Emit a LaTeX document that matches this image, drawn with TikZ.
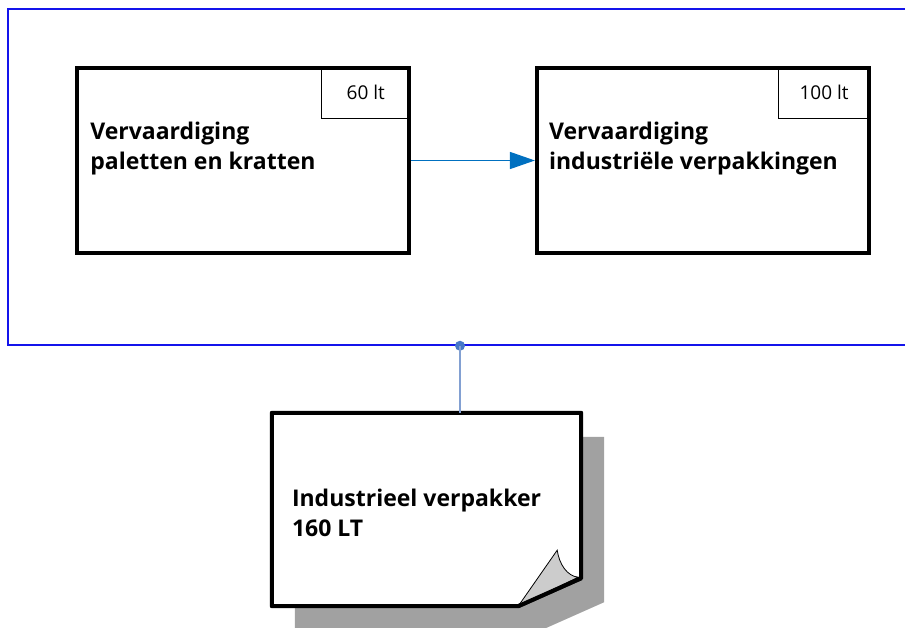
\documentclass[tikz,border=0pt]{standalone}
\usepackage{fontspec}
\setmainfont{Open Sans}
\usetikzlibrary{positioning,arrows.meta}
\definecolor{framblue}{RGB}{20,20,235}
\definecolor{flowblue}{RGB}{0,112,192}
\definecolor{linkblue}{RGB}{130,160,210}
\definecolor{dotblue}{RGB}{70,120,200}
\tikzset{procbox/.style={draw=black, line width=3.8pt, minimum width=332pt, minimum height=185pt, inner sep=0pt},
         lblbox/.style={draw=black, line width=1.2pt, minimum width=89pt, minimum height=52pt, inner sep=0pt, font=\fontsize{19}{22}\selectfont},
         boxtext/.style={align=left, inner sep=0pt, font=\fontsize{23}{30}\selectfont\bfseries}}

\begin{document}
\begin{tikzpicture}[x=1pt,y=-1pt]
   \useasboundingbox (0,0) rectangle (905,628);
   % group frame
   \node[draw=framblue, line width=1.5pt, minimum width=904pt, minimum height=336pt, inner sep=0pt] (grp) at (460,177) {};
   % process boxes
   \node[procbox] (box1) at (243,160.5) {};
   \node[procbox, right=124pt of box1] (box2) {};
   \node[lblbox, anchor=north east] (lbl1) at (box1.north east) {60 lt};
   \node[lblbox, anchor=north east, minimum width=92pt] (lbl2) at (box2.north east) {100 lt};
   \node[boxtext, anchor=west] (txt1) at ([xshift=15pt, yshift=12pt]box1.west) {Vervaardiging\\paletten en kratten};
   \node[boxtext, anchor=west] (txt2) at ([xshift=14pt, yshift=12pt]box2.west) {Vervaardiging\\industriële verpakkingen};
   \draw[flowblue, line width=1.5pt, -{Triangle[length=25pt, width=17pt]}] (box1.east) -- (box2.west);
   % note with shadow
   \node[minimum width=309pt, minimum height=193pt, inner sep=0pt] (note) at (426.5,509.5) {};
   \fill[black!37] ([shift={(23,24)}]note.north west) -- ([shift={(23,24)}]note.north east)
        -- ([shift={(23,-4)}]note.south east) -- ([shift={(-40,24)}]note.south east) -- ([shift={(23,24)}]note.south west) -- cycle;
   \draw[line width=4pt, line join=round, fill=white] (note.north west) -- (note.north east)
        -- ([yshift=28]note.south east) -- ([xshift=-63]note.south east) -- (note.south west) -- cycle;
   \draw[line width=0.8pt, fill=black!20] ([xshift=-63]note.south east) -- ([shift={(-24,-56)}]note.south east)
        .. controls ([shift={(-22,-42)}]note.south east) and ([shift={(-14,-30)}]note.south east) .. ([shift={(-3,-29)}]note.south east) -- cycle;
   \draw[line width=4pt, line join=round] ([yshift=28]note.south east) -- ([xshift=-63]note.south east);
   \node[boxtext, anchor=west] (txt3) at ([xshift=20pt, yshift=-3pt]note.west) {Industrieel verpakker\\160 LT};
   % link
   \fill[dotblue] (grp.south) circle (5pt) coordinate (dot);
   \draw[linkblue, line width=1.5pt] (dot) -- (dot |- note.north);
\end{tikzpicture}
\end{document}
